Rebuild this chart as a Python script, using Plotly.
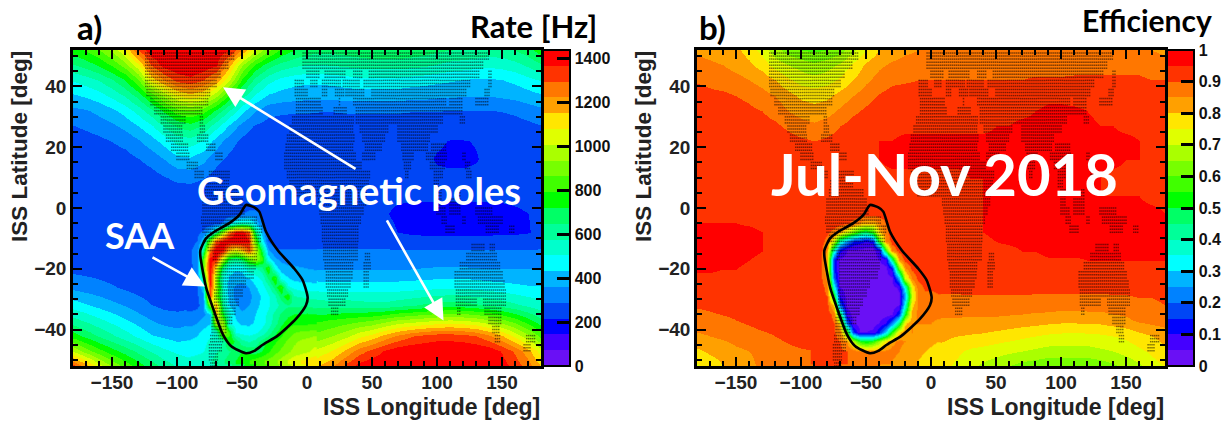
import numpy as np
import plotly.graph_objects as go

W, H = 1228, 422
lon_bg = list(range(-180, 181, 10))
lat_bg = [52, 47, 42, 37, 32, 27, 22, 16, 10, 4, -2, -8, -14, -20, -26, -32, -37, -42, -47, -52]

rate_bg = [
 [760,800,860,950,1080,1300,1420,1430,1430,1430,1430,1420,1380,1220,1020,880,780,720,680,670,670,680,690,700,700,700,690,680,660,650,640,630,620,620,650,690,760],
 [640,680,730,800,900,1060,1300,1400,1430,1430,1420,1380,1180,940,780,680,620,590,570,570,580,590,600,610,610,610,600,590,570,550,540,530,520,530,550,590,640],
 [510,540,580,640,720,850,1100,1230,1320,1350,1300,1200,1020,780,620,530,480,460,450,450,460,470,480,480,480,480,470,460,450,440,430,420,420,430,450,480,510],
 [420,440,470,520,580,670,800,950,1070,1120,1080,950,770,600,490,420,400,390,380,380,380,390,390,390,390,390,380,380,370,370,360,360,360,370,380,400,420],
 [340,350,380,410,460,530,620,730,830,860,820,700,570,450,360,310,300,295,295,290,290,295,295,295,295,295,290,290,290,285,285,285,285,290,300,320,340],
 [285,300,320,345,380,430,490,580,660,690,640,530,420,330,280,260,250,250,250,250,250,250,250,250,250,250,250,250,250,240,240,240,240,250,260,270,285],
 [250,260,270,290,310,350,400,460,530,540,500,400,320,270,245,235,235,235,235,230,230,230,230,230,230,230,230,230,222,214,214,218,225,230,235,245,250],
 [240,240,240,250,260,285,315,360,410,420,380,310,270,240,230,230,230,230,230,230,230,230,230,230,225,225,225,225,212,208,208,214,225,230,235,240,240],
 [235,235,235,235,235,240,255,280,305,310,290,255,240,230,230,230,230,230,230,230,230,230,225,225,225,225,225,225,225,225,225,225,225,230,235,235,235],
 [235,235,235,235,235,235,235,235,235,235,235,235,235,235,235,235,235,235,235,235,235,235,230,228,225,225,225,225,225,225,225,225,225,225,230,235,235],
 [240,240,240,240,240,240,240,240,240,240,240,240,240,240,240,240,240,235,235,235,230,230,228,225,220,205,195,195,195,195,195,195,195,200,205,215,240],
 [235,235,235,235,235,235,235,235,235,250,300,400,420,420,260,240,240,240,240,240,240,240,240,235,235,215,205,200,200,200,200,200,200,205,205,212,235],
 [240,240,240,240,240,240,240,240,245,280,320,500,500,500,500,320,295,295,295,295,295,295,295,295,295,295,295,295,295,295,295,295,295,295,295,295,295],
 [270,265,260,250,245,240,240,240,245,270,330,500,500,500,500,520,380,370,360,355,355,355,355,355,355,355,360,365,370,370,370,365,360,360,360,360,360],
 [340,325,310,295,275,260,250,240,240,250,330,500,500,400,450,860,560,480,470,470,470,470,470,470,470,470,475,480,485,490,490,480,470,460,450,440,440],
 [470,440,410,380,355,320,290,270,265,270,340,1300,460,340,420,560,720,640,640,620,610,620,610,600,600,620,640,660,680,690,680,660,640,620,590,560,530],
 [600,560,520,480,440,400,360,330,320,340,380,600,500,420,440,530,800,780,780,780,800,820,840,860,900,940,960,980,1000,1010,1000,980,940,880,820,740,660],
 [760,700,640,590,540,490,440,420,400,420,450,500,560,600,640,720,780,840,880,900,940,990,1060,1110,1180,1240,1290,1320,1340,1340,1330,1300,1240,1160,1060,960,840],
 [1000,900,820,750,690,630,570,520,490,470,500,540,580,620,680,760,840,920,980,1040,1090,1170,1260,1320,1380,1420,1430,1430,1430,1430,1430,1430,1420,1360,1280,1180,1040],
 [1330,1190,1040,930,840,760,690,620,570,540,550,590,640,720,800,880,960,1040,1100,1160,1220,1320,1400,1430,1430,1430,1430,1430,1430,1430,1430,1430,1430,1400,1340,1260,1150],
]

eff_bg = [
 [84,83,82,81,78,73,67,63,60,59,60,63,69,75,80,82,84,85,85,86,86,85,85,85,85,85,85,85,85,86,86,86,86,86,86,85,84],
 [87,86,85,83,81,78,73,70,68,66,68,71,76,81,84,86,87,87,87,87,87,87,87,87,87,87,87,87,87,88,88,88,88,88,88,87,87],
 [89.5,89,88,87,85,83,80,76,73,72,73,76,80,84,87,89,89.5,90,90,90,90,90,90,90,90,90,91,91,91,91,91,91,91,91,91,90,90],
 [92,91,91,90,89,87,85,82,79,78,79,82,85,88,90.5,92,92,92,92,92,92,92,92,92,92,92,93,94,94,93,93,93,93,93,92,92,92],
 [93,93,92,92,91,90,88,85,83,82,83,86,89,91,93,93,93,93,93,93,93,93,93,94,94,94,95,96,96,96,95,94,94,94,93,93,93],
 [93,93,93,93,93,92,91,89,87,86,87.5,90,92,93,94,94,94,94,94,94,94,94,94,95,95,96,96,96,96,96,96,95,95,94,94,94,93],
 [93,93,93,93,93,93,93,92,91,90,91,92,93,94,95,95,96,96,96,96,96,96,96,96,96,96,96,96,96,96,96,96,96,96,95,94,93],
 [93,93,93,93,93,93,93,93,93,93,93,94,94,94,95,96,96,96,96,96,96,96,96,96,96,96,96,96,96,96,96,96,96,95,95,94,93],
 [93,93,93,93,93,93,93,93,93,93,93,93,93,94,94,94,94,94,94,94,94,95,95,96,96,96,96,96,96,96,95,95,94,94,94,94,93],
 [93,93,93,93,93,93,93,93,93,93,93,93,93,94,94,94,94,94,94,94,94,94,95,95,95,95,95,95,95,95,95,95,95,95,95,94,94],
 [94,94,94,94,93,93,93,93,93,93,93,93,93,93,93,94,94,94,94,94,94,94,95,96,96,96,96,96,96,96,96,96,96,96,96,96,95],
 [96,96,96,96,96,95,94,93,93,93,93,93,93,93,93,93,93,93,94,94,94,94,95,96,97,97,97,97,97,97,97,97,97,97,97,97,96],
 [96,96,96,96,95.5,95,94,93,93,93,93,93,93,93,93,93,93,93,93,93,93,93,93,94,94,95,95,96,96,96,96,96,96,96,96,96,96],
 [95.5,95.5,95,95,94.5,94,93,93,93,93,93,93,93,93,93,93,93,93,93,93,93,93,93,93,93,93,93,93,93,93,94,94,94,94,94,94,94],
 [93,93,93,93,93,93,93,93,93,93,93,93,93,93,93,93,92,91.5,91.5,91.5,91.5,91.5,91.5,91.5,91.5,91.5,91.5,91.5,91.5,91.5,91.5,91.5,91.5,91.5,91.5,91.5,92],
 [90.5,91,92,92,92,93,93,93,93,93,93,93,93,93,93,88,87,87,87,87,87.5,88,88,88,88,88,87.5,87.5,87,87,87,87,88,88,89,89,90],
 [88,88.5,89,90,91,92,92,93,93,93,93,93,93,93,93,85,84.5,84.5,84.5,84.5,84.5,84,84,84,83.5,83,82.5,82,81.5,81.5,82,82,83,84,86,87,87.5],
 [84,85,86,87,88,89,90,91,92,92,92,92,92,91,88,85,84,83,82,81,80,79.5,79,78,77,76,75,74,73.5,73,73.5,74,75,76,78,80,82],
 [79,81,82,84,85,86,88,89,89.5,90,90,90,89,88,87,85,82,80,79,78,76,74,73,72,71,70,69,68,68,68,68,69,70,72,74,76,79],
 [74,77,80,82,84,86,88,89.5,90,90,90,90,89,87,85,83,81,80,78,76,74,71,69,67,65,63,62,61,61,61,61,62,64,66,69,73,75],
]

lon_saa = list(range(-90, 6, 5))
lat_saa = [4, 1, -2, -5, -8, -11, -14, -17, -20, -23, -26, -29, -32, -35, -38, -41, -44, -47, -50]

rate_saa = [
 [235,235,235,235,235,235,235,235,235,235,235,235,235,235,235,235,235,235,235,235],
 [235,235,235,235,235,235,235,235,240,250,250,240,235,235,235,235,235,235,235,235],
 [235,235,235,235,235,240,245,260,290,320,320,280,240,235,235,235,235,235,235,235],
 [240,240,240,245,260,300,400,520,560,540,430,300,245,240,240,240,240,240,240,240],
 [250,270,300,420,620,950,1250,1400,1420,1300,700,400,260,240,240,240,240,240,240,240],
 [265,290,420,900,1300,1420,1430,1430,1420,1380,900,480,290,240,240,240,240,240,240,240],
 [280,320,600,1250,1430,1400,1150,1050,1150,1300,1050,700,380,300,295,295,295,295,295,295],
 [280,320,800,1400,1380,1000,680,620,680,850,950,820,480,380,340,340,340,335,330,330],
 [270,320,850,1420,1100,620,470,440,450,560,560,620,800,480,400,370,370,365,360,355],
 [255,300,600,1430,950,520,420,400,400,430,470,520,650,800,490,440,410,410,405,400],
 [250,285,420,1350,1000,520,400,340,320,360,420,470,540,680,800,520,490,470,470,470],
 [250,280,320,1300,900,560,410,330,300,330,400,440,490,560,680,780,580,570,560,560],
 [265,275,310,900,1200,620,440,370,330,360,410,450,490,540,600,640,630,640,640,620],
 [300,310,340,400,1150,750,540,410,380,400,430,470,520,600,660,700,720,720,730,730],
 [340,360,400,430,1000,1000,500,450,420,420,440,480,530,620,700,760,780,780,780,790],
 [400,420,450,480,520,1000,800,500,480,470,490,530,600,700,760,820,860,880,880,900],
 [440,450,480,520,540,580,780,700,600,570,600,680,720,780,830,880,920,950,970,990],
 [470,490,500,540,570,600,640,680,720,700,680,720,780,840,880,920,960,980,1000,1020],
 [530,530,540,570,600,640,680,720,760,790,820,850,880,920,960,1010,1060,1080,1100,1130],
]

eff_saa = [
 [93,93,93,93,93,93,93,93,93,93,93,93,93,93,93,93,93,93,93,93],
 [93,93,93,93,93,93,93,93,93,93,93,93,93,93,93,93,93,93,94,94],
 [93,93,93,93,93,93,93,93,92,92,92,93,93,93,93,93,93,94,94,94],
 [93,93,93,93,92,91,88,84,80,80,85,90,93,93,93,93,93,93,94,94],
 [92,92,91,88,82,72,62,50,45,55,78,88,93,93,93,93,93,93,93,94],
 [92,92,88,72,40,25,15,12,10,12,55,85,92,93,93,93,93,93,93,93],
 [92,91,85,40,12,5,4,4,3,3,8,55,86,92,93,93,93,93,93,93],
 [92,91,80,15,4,3,3,3,3,3,5,8,45,84,92,93,93,93,93,93],
 [92,91,80,15,3,3,3,3,3,3,3,4,12,60,84,91,93,93,93,93],
 [93,91,84,20,4,3,3,3,3,3,3,3,4,25,70,86,91,93,93,93],
 [93,92,88,35,5,3,3,3,3,3,3,3,3,6,35,75,87,91,91,92],
 [93,92,90,55,10,3,3,3,3,3,3,3,3,4,25,70,86,88,88,89],
 [93,93,92,78,20,4,3,3,3,3,3,3,3,5,35,78,86,87,87,87],
 [93,93,93,88,50,8,3,3,3,3,3,3,4,15,50,82,86,86,86,86],
 [93,93,93,90,78,22,5,3,3,3,5,10,22,45,78,85,85,85,85,84],
 [93,93,93,91,86,60,18,5,5,6,14,30,55,78,84,85,84,83,83,82],
 [93,93,93,92,90,84,70,55,50,55,65,78,84,86,85,84,83,82,81,80],
 [91,91,91,92,91,90,88,86,85,85,85,86,86,85,83,82,81,80,79,78],
 [90,90,90,90,90,90,89,88,87,87,86,85,85,84,82,81,80,79,78,77],
]

saa_lon = [-46.9,-40.5,-36.7,-31.5,-22.5,-9.7,-3.3,0.5,-0.8,-8.5,-22.5,-34,-40.5,-47,-58.5,-64.8,-72.5,-77.7,-82,-82,-77.7,-71.3,-59.7,-52,-46.9]
saa_lat = [1.0,0.2,-1.2,-7.8,-13.9,-20,-23.8,-29.4,-32,-36.5,-42,-45,-47,-47.8,-45.4,-41.5,-32.7,-26,-16,-13.9,-10,-7.8,-5,-2.3,1.0]

land_spans = [
 (50,[(-124,-56),(-3,140)]),
 (47,[(-124,-60),(-3,135)]),
 (44,[(-124,-66),(0,10),(14,30),(36,42),(48,132),(140,142)]),
 (41,[(-124,-70),(-9,-3),(3,8),(12,26),(28,40),(44,125),(140,142)]),
 (38,[(-123,-74),(-9,0),(12,16),(22,28),(30,44),(50,122),(137,141)]),
 (35,[(-120,-76),(-8,11),(25,26),(36,107),(110,120),(130,140)]),
 (32,[(-117,-80),(-8,12),(21,31),(38,120)]),
 (29,[(-112,-93),(-82,-80),(-11,36),(38,105),(118,122)]),
 (26,[(-110,-96),(-82,-78),(-13,36),(41,62),(70,100)]),
 (23,[(-108,-96),(-84,-76),(-15,36),(43,60),(70,95)]),
 (20,[(-104,-92),(-77,-70),(-16,36),(45,58),(73,93),(96,107)]),
 (17,[(-100,-90),(-70,-65),(-17,38),(43,52),(74,82),(92,108),(120,122)]),
 (14,[(-92,-84),(-17,42),(75,80),(95,106),(122,125)]),
 (11,[(-86,-80),(-75,-60),(-15,48),(76,78),(98,104),(123,126)]),
 (8,[(-77,-60),(-13,48),(98,102)]),
 (5,[(-78,-52),(-10,46),(100,103),(116,118)]),
 (2,[(-80,-50),(9,45),(100,104),(110,118)]),
 (-1,[(-80,-48),(10,43),(100,106),(110,118),(130,142)]),
 (-4,[(-81,-38),(11,42),(104,108),(120,122),(132,150)]),
 (-7,[(-80,-35),(12,39),(107,114),(138,148),(156,159)]),
 (-10,[(-78,-36),(12,39)]),
 (-13,[(-76,-38),(13,39),(127,136),(141,145)]),
 (-16,[(-72,-39),(13,39),(45,49),(123,146)]),
 (-19,[(-70,-40),(14,36),(44,49),(118,148)]),
 (-22,[(-70,-41),(15,35),(44,48),(114,150)]),
 (-25,[(-70,-47),(15,34),(44,47),(114,152)]),
 (-28,[(-71,-49),(16,31),(115,153)]),
 (-31,[(-71,-52),(17,29),(115,130),(136,153)]),
 (-34,[(-72,-55),(19,24),(116,118),(137,150)]),
 (-37,[(-73,-57),(140,149)]),
 (-40,[(-73,-62),(143,148)]),
 (-43,[(-74,-64),(145,148),(169,175)]),
 (-46,[(-75,-66),(167,172)]),
 (-49,[(-75,-68)]),
 (-52,[(-74,-69)]),
]

band_colors = ["#6a10f5","#4400ff","#0000ff","#0046f5","#0082ff","#00b4ff","#00ffff","#00ffcc",
               "#00ff99","#00ff66","#00ff00","#40ff00","#77ff00","#aaff00","#e0ff00","#ffe600",
               "#ffa000","#ff7700","#ff3300","#ff0000"]
stepped = []
for i, c in enumerate(band_colors):
    stepped.append([i / 20, c])
    stepped.append([(i + 1) / 20, c])

rate_ticks = [0, 200, 400, 600, 800, 1000, 1200, 1400]
eff_ticks = [0, .1, .2, .3, .4, .5, .6, .7, .8, .9, 1]
eff_labels = ["0", "0.1", "0.2", "0.3", "0.4", "0.5", "0.6", "0.7", "0.8", "0.9", "1"]

dot_lon, dot_lat = [], []
for lat, spans in land_spans:
    for la in (lat + 1, lat, lat - 1):
        for a, b in spans:
            for lo in np.arange(a, b + 0.01, 1.5):
                dot_lon.append(float(lo))
                dot_lat.append(la)

def px(x): return x / W
def py(y): return 1 - y / H

SANS = "Liberation Sans"
CAL = "Lato"
T, B = 50, 366
panels = [dict(l=73, r=541, bar=543, xa="x", ya="y"),
          dict(l=697, r=1165, bar=1167, xa="x2", ya="y2")]

fig = go.Figure()

def add_panel(p, bg, saa, zmax, ticks, labels):
    fig.add_trace(go.Heatmap(
        x=lon_bg, y=lat_bg[::-1], z=np.array(bg, float)[::-1].tolist(), zmin=0, zmax=zmax, zsmooth="best",
        colorscale=stepped, xaxis=p["xa"], yaxis=p["ya"], hoverinfo="skip",
        colorbar=dict(x=px(p["bar"]), xanchor="left", xref="paper", y=py(B), yanchor="bottom", yref="paper",
                      len=(B - T) / H, lenmode="fraction", thickness=27, thicknessmode="pixels",
                      xpad=0, ypad=0, outlinewidth=2, outlinecolor="black",
                      tickmode="array", tickvals=ticks, ticktext=labels, ticks="inside", ticklen=14,
                      tickwidth=2.5, tickcolor="#000000",
                      tickfont=dict(family=SANS, size=16, color="#111", weight="bold"))))
    fig.add_trace(go.Heatmap(
        x=lon_saa, y=lat_saa[::-1], z=np.array(saa, float)[::-1].tolist(), zmin=0, zmax=zmax, zsmooth="best",
        colorscale=stepped, showscale=False, xaxis=p["xa"], yaxis=p["ya"], hoverinfo="skip"))
    fig.add_trace(go.Scatter(
        x=dot_lon, y=dot_lat, mode="markers", xaxis=p["xa"], yaxis=p["ya"], hoverinfo="skip", showlegend=False,
        marker=dict(symbol="square", size=1.5, color="black", opacity=0.5, line=dict(width=0))))
    fig.add_trace(go.Scatter(
        x=saa_lon, y=saa_lat, mode="lines", xaxis=p["xa"], yaxis=p["ya"], hoverinfo="skip", showlegend=False,
        line=dict(color="black", width=2.6, shape="spline", smoothing=0.6)))

add_panel(panels[0], rate_bg, rate_saa, 1440, rate_ticks, [str(t) for t in rate_ticks])
add_panel(panels[1], (np.array(eff_bg) / 100).tolist(), (np.array(eff_saa) / 100).tolist(), 1.0, eff_ticks, eff_labels)

def axis_common():
    return dict(showline=True, linewidth=2.5, linecolor="black", mirror="allticks", showgrid=False, zeroline=False,
                ticks="inside", tickcolor="black", tickwidth=2.2, ticklen=9,
                tickfont=dict(family=SANS, size=19, color="#222", weight="bold"))

for i, p in enumerate(panels):
    sfx = "" if i == 0 else "2"
    xa = axis_common()
    xa.update(domain=[px(p["l"]), px(p["r"])], range=[-180, 180], tickvals=[-150, -100, -50, 0, 50, 100, 150],
              minor=dict(dtick=10, ticks="inside", ticklen=5, tickcolor="black", tickwidth=2),
              anchor="y" + sfx, ticklabelstandoff=-3)
    ya = axis_common()
    ya.update(domain=[py(B), py(T)], range=[-52, 52], tickvals=[-40, -20, 0, 20, 40],
              minor=dict(dtick=5, ticks="inside", ticklen=5, tickcolor="black", tickwidth=2),
              anchor="x" + sfx)
    fig.update_layout({"xaxis" + sfx: xa, "yaxis" + sfx: ya})

def txt(x, y, s, size, family=CAL, color="black", xanchor="left", angle=0, yanchor="middle"):
    return dict(x=px(x), y=py(y), xref="paper", yref="paper", text=s, showarrow=False, textangle=angle,
                xanchor=xanchor, yanchor=yanchor,
                font=dict(family=family, size=size, color=color, weight="bold"))

def arrow(tail, head, xr, yr):
    return dict(x=head[0], y=head[1], ax=tail[0], ay=tail[1], xref=xr, yref=yr, axref=xr, ayref=yr, text="",
                showarrow=True, arrowhead=2, arrowsize=1.6, arrowwidth=2.6, arrowcolor="white", standoff=0)

annots = [
    txt(75, 27, "a)", 33), txt(599, 26, "Rate [Hz]", 31, xanchor="right"),
    txt(697, 27, "b)", 33), txt(1214, 20, "Efficiency", 30, xanchor="right"),
    txt(542, 407, "ISS Longitude [deg]", 23, SANS, "#222", xanchor="right"),
    txt(1166, 407, "ISS Longitude [deg]", 23, SANS, "#222", xanchor="right"),
    txt(19, 147, "ISS Latitude [deg]", 22.5, SANS, "#222", xanchor="center", angle=-90),
    txt(643, 147, "ISS Latitude [deg]", 22.5, SANS, "#222", xanchor="center", angle=-90),
    txt(359, 190, "Geomagnetic poles", 38, color="white", xanchor="center"),
    txt(140, 235, "SAA", 36, color="white", xanchor="center"),
    txt(944, 174, "Jul-Nov 2018", 58, color="white", xanchor="center"),
    arrow((38.5, 12.6), (-64.6, 39.7), "x", "y"),
    arrow((60.8, -3.6), (105, -37), "x", "y"),
    arrow((-120, -16), (-78.5, -25.8), "x", "y"),
]

fig.update_layout(width=W, height=H, margin=dict(l=0, r=0, t=0, b=0, autoexpand=False), paper_bgcolor="white",
                  plot_bgcolor="white", showlegend=False, annotations=annots)

fig.write_html("out.html", config={"displayModeBar": False},
               post_script="document.body.style.margin='0';document.body.style.overflow='hidden';")
